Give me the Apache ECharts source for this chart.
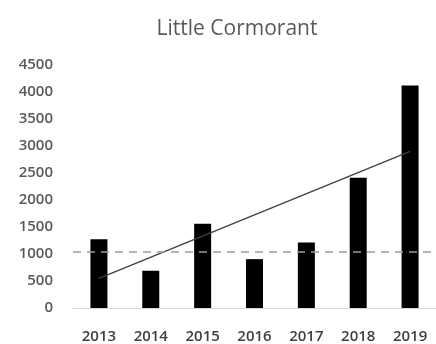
<!DOCTYPE html>
<html>
<head>
<meta charset="utf-8">
<script src="https://cdn.jsdelivr.net/npm/echarts@6/dist/echarts.min.js"></script>
<style>
html,body{margin:0;padding:0;background:#fff;}
#chart{width:436px;height:344px;}
</style>
</head>
<body>
<div id="chart"></div>
<script>
const title = "Little Cormorant";
const years = ["2013","2014","2015","2016","2017","2018","2019"];
const counts = [1275, 690, 1560, 905, 1215, 2410, 4120];
const trendStart = 550;
const trendEnd = 2900;
const referenceLevel = 1050;
const yTicks = {min: 0, max: 4500, interval: 500};

const trend = years.map((y, i) => i === 0 ? trendStart : (i === years.length - 1 ? trendEnd : null));

const chart = echarts.init(document.getElementById('chart'), null, {renderer: 'canvas'});
chart.setOption({
  animation: false,
  backgroundColor: '#fff',
  title: {
    text: title,
    left: 232, top: 14, textAlign: 'center',
    textStyle: {fontFamily: 'Open Sans', fontSize: 21, fontWeight: 'normal', color: '#595959'}
  },
  grid: {left: 73, top: 65, width: 370, height: 245, containLabel: false},
  xAxis: {
    type: 'category',
    data: years,
    axisTick: {show: false},
    axisLine: {lineStyle: {color: '#d9d9d9', width: 1}},
    axisLabel: {margin: 21, fontFamily: 'Open Sans', fontSize: 15, fontWeight: 600, color: '#404040'}
  },
  yAxis: {
    type: 'value',
    min: yTicks.min, max: yTicks.max, interval: yTicks.interval,
    axisLine: {show: false},
    axisTick: {show: false},
    splitLine: {show: false},
    axisLabel: {margin: 20, fontFamily: 'Open Sans', fontSize: 15, fontWeight: 600, color: '#595959',
      formatter: v => String(v)}
  },
  series: [
    {
      type: 'bar',
      data: counts,
      barWidth: 17,
      itemStyle: {color: '#000'},
      markLine: {
        silent: true,
        symbol: 'none',
        label: {show: false},
        lineStyle: {type: [8, 6], color: '#9a9ab4', width: 1.5},
        data: [{yAxis: referenceLevel}]
      },
      z: 2
    },
    {
      type: 'line',
      data: trend,
      connectNulls: true,
      symbol: 'none',
      lineStyle: {color: '#404040', width: 1.3},
      z: 3
    }
  ]
});
</script>
</body>
</html>
